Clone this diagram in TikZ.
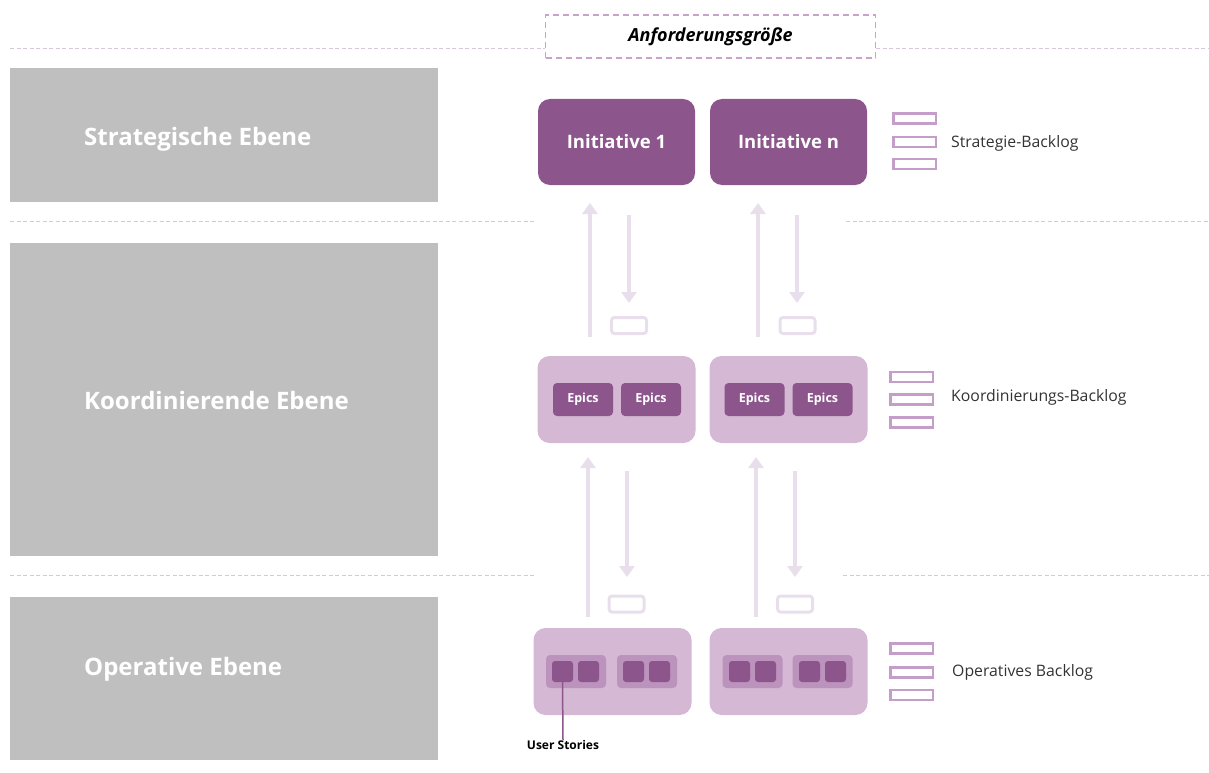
\documentclass[tikz,border=0pt]{standalone}
\usepackage{fontspec}
\setmainfont{Open Sans}
\usetikzlibrary{arrows.meta}
\definecolor{plum}{RGB}{140,86,140}
\definecolor{lilac}{RGB}{212,184,212}
\definecolor{lilacmid}{RGB}{188,147,189}
\definecolor{flowc}{RGB}{233,222,236}
\definecolor{levelgray}{RGB}{191,191,191}
\definecolor{sepline}{RGB}{214,200,218}
\definecolor{iconline}{RGB}{196,157,200}
\definecolor{framec}{RGB}{200,162,203}
\tikzset{
  level/.style={fill=levelgray, draw=none, inner sep=0pt},
  leveltext/.style={text=white, font=\bfseries\fontsize{24}{28}\selectfont, anchor=west, inner sep=0pt},
  sep/.style={draw=sepline, line width=1pt, dash pattern=on 4pt off 2.5pt},
  initbox/.style={fill=plum, rounded corners=12pt, minimum width=157pt, minimum height=86pt, inner sep=0pt,
    text=white, font=\bfseries\fontsize{18.5}{22}\selectfont},
  container/.style={fill=lilac, rounded corners=12pt, minimum width=158pt, minimum height=87pt, inner sep=0pt},
  epicbox/.style={fill=plum, rounded corners=4pt, minimum width=60pt, minimum height=33pt, inner sep=0pt,
    text=white, font=\bfseries\fontsize{12.5}{15}\selectfont},
  storygroup/.style={fill=lilacmid, rounded corners=4pt, minimum width=60pt, minimum height=33pt, inner sep=0pt},
  story/.style={fill=plum, rounded corners=3pt, minimum width=21pt, minimum height=21pt, inner sep=0pt},
  flow/.style={draw=flowc, line width=4pt, -{Triangle[width=15pt,length=11pt]}},
  slot/.style={draw=flowc, line width=3pt, rounded corners=3pt, minimum width=35pt, minimum height=16pt, inner sep=0pt},
  blicon/.style={draw=iconline, line width=2.5pt, minimum width=42.5pt, minimum height=10pt, inner sep=0pt},
  bltext/.style={anchor=west, inner sep=0pt, text=black!80, font=\fontsize{15.8}{19}\selectfont},
}
\begin{document}
\begin{tikzpicture}[x=1pt, y=-1pt]
\useasboundingbox (0,0) rectangle (1209,773);

% level bands on the left
\node[level, minimum width=428pt, minimum height=134pt] (strat) at (224,135) {};
\node[level, minimum width=428pt, minimum height=313pt] (koord) at (224,399.5) {};
\node[level, minimum width=428pt, minimum height=163pt] (oper) at (224,678.5) {};
\node[leveltext] (strattxt) at (84,139) {Strategische Ebene};
\node[leveltext] (koordtxt) at (84,400) {Koordinierende Ebene};
\node[leveltext] (opertxt) at (84,669) {Operative Ebene};

% header frame
\node[draw=framec, line width=1.5pt, dash pattern=on 6pt off 4pt, minimum width=330pt, minimum height=43pt,
  inner sep=0pt, font=\bfseries\itshape\fontsize{18}{21}\selectfont] (size) at (710.5,36.5) {Anforderungsgröße};

% separators
\coordinate (s1a) at (10,49);   \coordinate (s1b) at (1209,49);
\coordinate (s2a) at (10,221);  \coordinate (s2b) at (535,221);
\coordinate (s2c) at (846,221); \coordinate (s2d) at (1209,221);
\coordinate (s3a) at (10,575);  \coordinate (s3b) at (534,575);
\coordinate (s3c) at (843,575); \coordinate (s3d) at (1209,575);
\draw[sep] (s1a) -- (s1a -| size.west);
\draw[sep] (s1b -| size.east) -- (s1b);
\draw[sep] (s2a) -- (s2b);
\draw[sep] (s2c) -- (s2d);
\draw[sep] (s3a) -- (s3b);
\draw[sep] (s3c) -- (s3d);

% strategic level
\node[initbox] (init1) at (616.5,142) {Initiative 1};
\node[initbox] (initn) at (788.5,142) {Initiative n};

% coordination level
\node[container] (ec1) at (616.5,399.5) {};
\node[container] (ec2) at (788.5,399.5) {};
\node[epicbox] (ep1) at (583,399.5) {Epics};
\node[epicbox] (ep2) at (651,399.5) {Epics};
\node[epicbox] (ep3) at (754.5,399.5) {Epics};
\node[epicbox] (ep4) at (822.5,399.5) {Epics};

% operative level
\node[container] (oc1) at (612.5,671.5) {};
\node[container] (oc2) at (788.5,671.5) {};
\node[storygroup] (g1) at (576,671.5) {};
\node[storygroup] (g2) at (647,671.5) {};
\node[storygroup] (g3) at (752.5,671.5) {};
\node[storygroup] (g4) at (822.5,671.5) {};
\node[story] (us1) at (562.5,671.5) {};
\node[story] (us2) at (588.5,671.5) {};
\node[story] (us3) at (633.5,671.5) {};
\node[story] (us4) at (659.5,671.5) {};
\node[story] (us5) at (739.5,671.5) {};
\node[story] (us6) at (765.5,671.5) {};
\node[story] (us7) at (809.5,671.5) {};
\node[story] (us8) at (835.5,671.5) {};
\node[inner sep=0pt, font=\bfseries\fontsize{12}{14}\selectfont] (ustxt) at (563,745) {User Stories};
\draw[plum, line width=1.5pt] (us1.south) -- (ustxt.north);

% flows between strategic and coordination level
\coordinate (u1a) at (590,337); \coordinate (u1b) at (590,203);
\coordinate (d1a) at (629,215); \coordinate (d1b) at (629,303);
\coordinate (u2a) at (758,337); \coordinate (u2b) at (758,203);
\coordinate (d2a) at (797,215); \coordinate (d2b) at (797,303);
\draw[flow] (u1a) -- (u1b);
\draw[flow] (d1a) -- (d1b);
\draw[flow] (u2a) -- (u2b);
\draw[flow] (d2a) -- (d2b);
\node[slot] (sl1) at (629,325.5) {};
\node[slot] (sl2) at (797.5,325.5) {};

% flows between coordination and operative level
\coordinate (u3a) at (588,617); \coordinate (u3b) at (588,457);
\coordinate (d3a) at (627,471); \coordinate (d3b) at (627,577);
\coordinate (u4a) at (756,617); \coordinate (u4b) at (756,457);
\coordinate (d4a) at (795,471); \coordinate (d4b) at (795,577);
\draw[flow] (u3a) -- (u3b);
\draw[flow] (d3a) -- (d3b);
\draw[flow] (u4a) -- (u4b);
\draw[flow] (d4a) -- (d4b);
\node[slot] (sl3) at (626.5,604) {};
\node[slot] (sl4) at (795,604) {};

% backlogs
\node[blicon] (b1a) at (914.5,118.5) {};
\node[blicon] (b1b) at (914.5,142) {};
\node[blicon] (b1c) at (914.5,164) {};
\node[bltext] (b1t) at (951,143) {Strategie-Backlog};
\node[blicon] (b2a) at (911.5,377) {};
\node[blicon] (b2b) at (911.5,399.5) {};
\node[blicon] (b2c) at (911.5,422.5) {};
\node[bltext] (b2t) at (951,397) {Koordinierungs-Backlog};
\node[blicon] (b3a) at (911.5,648.5) {};
\node[blicon] (b3b) at (911.5,672.5) {};
\node[blicon] (b3c) at (911.5,695) {};
\node[bltext] (b3t) at (952,672) {Operatives Backlog};
\end{tikzpicture}
\end{document}
